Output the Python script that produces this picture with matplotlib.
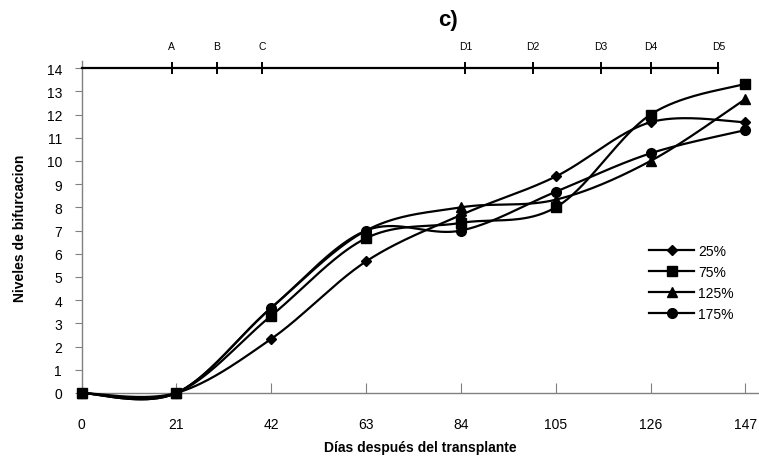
import numpy as np
import matplotlib
matplotlib.use("Agg")
import matplotlib.pyplot as plt
from matplotlib.lines import Line2D

plt.rcParams["font.family"] = ["Liberation Sans", "DejaVu Sans"]

# Datos: niveles de bifurcacion por dosis
dias = [0, 21, 42, 63, 84, 105, 126, 147]
n25 = [0, 0, 2.33, 5.67, 7.67, 9.33, 11.67, 11.67]
n75 = [0, 0, 3.33, 6.67, 7.33, 8.0, 12.0, 13.33]
n125 = [0, 0, 3.67, 7.0, 8.0, 8.33, 10.0, 12.67]
n175 = [0, 0, 3.67, 7.0, 7.0, 8.67, 10.33, 11.33]
series = ["25%", "75%", "125%", "175%"]

# Etapas fenologicas marcadas arriba
etapas = ["A", "B", "C", "D1", "D2", "D3", "D4", "D5"]
dias_etapa = [20, 30, 40, 85, 100, 115, 126, 141]


def suavizar(x, y, pasos=40):
    """Curva suavizada tipo Excel (Bezier con puntos de control a 1/6)"""
    p = np.column_stack([x, y]).astype(float)
    n = len(p)
    xs, ys = [], []
    t = np.linspace(0, 1, pasos)[:, None]
    for i in range(n - 1):
        p0 = p[i - 1] if i > 0 else p[i]
        p1 = p[i]
        p2 = p[i + 1]
        p3 = p[i + 2] if i + 2 < n else p[i + 1]
        c1 = p1 + (p2 - p0) / 6
        c2 = p2 - (p3 - p1) / 6
        b = ((1 - t) ** 3) * p1 + 3 * ((1 - t) ** 2) * t * c1 \
            + 3 * (1 - t) * t ** 2 * c2 + t ** 3 * p2
        xs.extend(b[:, 0])
        ys.extend(b[:, 1])
    return np.array(xs), np.array(ys)


fig = plt.figure(figsize=(7.59, 4.64), dpi=100)
ax = fig.add_axes([0.1074, 0.1509, 0.8926, 0.7151])

marcadores = ["D", "s", "^", "o"]
tamanos = [5, 6.5, 7, 7]
handles = []
for datos, m, ms, nombre in zip([n25, n75, n125, n175], marcadores, tamanos, series):
    sx, sy = suavizar(dias, datos)
    ax.plot(sx, sy, color="black", lw=1.6, zorder=3, clip_on=False)
    ax.plot(dias, datos, linestyle="none", marker=m, ms=ms, color="black",
            zorder=4, clip_on=False)
    handles.append(Line2D([], [], color="black", lw=1.6, marker=m, ms=ms,
                          label=nombre))

# Linea de etapas en y = 14
ax.plot([0, dias_etapa[-1]], [14, 14], color="black", lw=1.6, zorder=3,
        clip_on=False)
ax.plot(dias_etapa, [14] * len(dias_etapa), linestyle="none", marker="|",
        ms=9, mew=1.4, color="black", clip_on=False)
for d, e in zip(dias_etapa, etapas):
    ax.annotate(e, (d, 14), xytext=(0, 16), textcoords="offset points",
                ha="center", va="center", fontsize=7.5)

ax.set_xlim(0, 150)
ax.set_ylim(0, 14.3)
ax.set_xticks(dias)
ax.set_yticks(range(0, 15))
ax.tick_params(axis="x", direction="in", length=7, pad=17, labelsize=10,
               color="#808080")
ax.tick_params(axis="y", direction="out", length=5, pad=9, labelsize=10,
               color="#808080")
for lado in ["top", "right"]:
    ax.spines[lado].set_visible(False)
for lado in ["left", "bottom"]:
    ax.spines[lado].set_color("#808080")
    ax.spines[lado].set_linewidth(1.0)

ax.set_xlabel("Días después del transplante", fontsize=10, fontweight="bold",
              labelpad=7)
ax.set_ylabel("Niveles de bifurcacion", fontsize=10, fontweight="bold",
              labelpad=14)
fig.text(0.59, 0.955, "c)", fontsize=16, fontweight="bold", ha="center",
         va="center")

ax.legend(handles=handles, loc="upper left", bbox_to_anchor=(0.83, 0.465),
          frameon=False, fontsize=10, handlelength=3.2, handletextpad=0.3,
          labelspacing=0.5, borderaxespad=0)

fig.savefig("out.png", dpi=100)
